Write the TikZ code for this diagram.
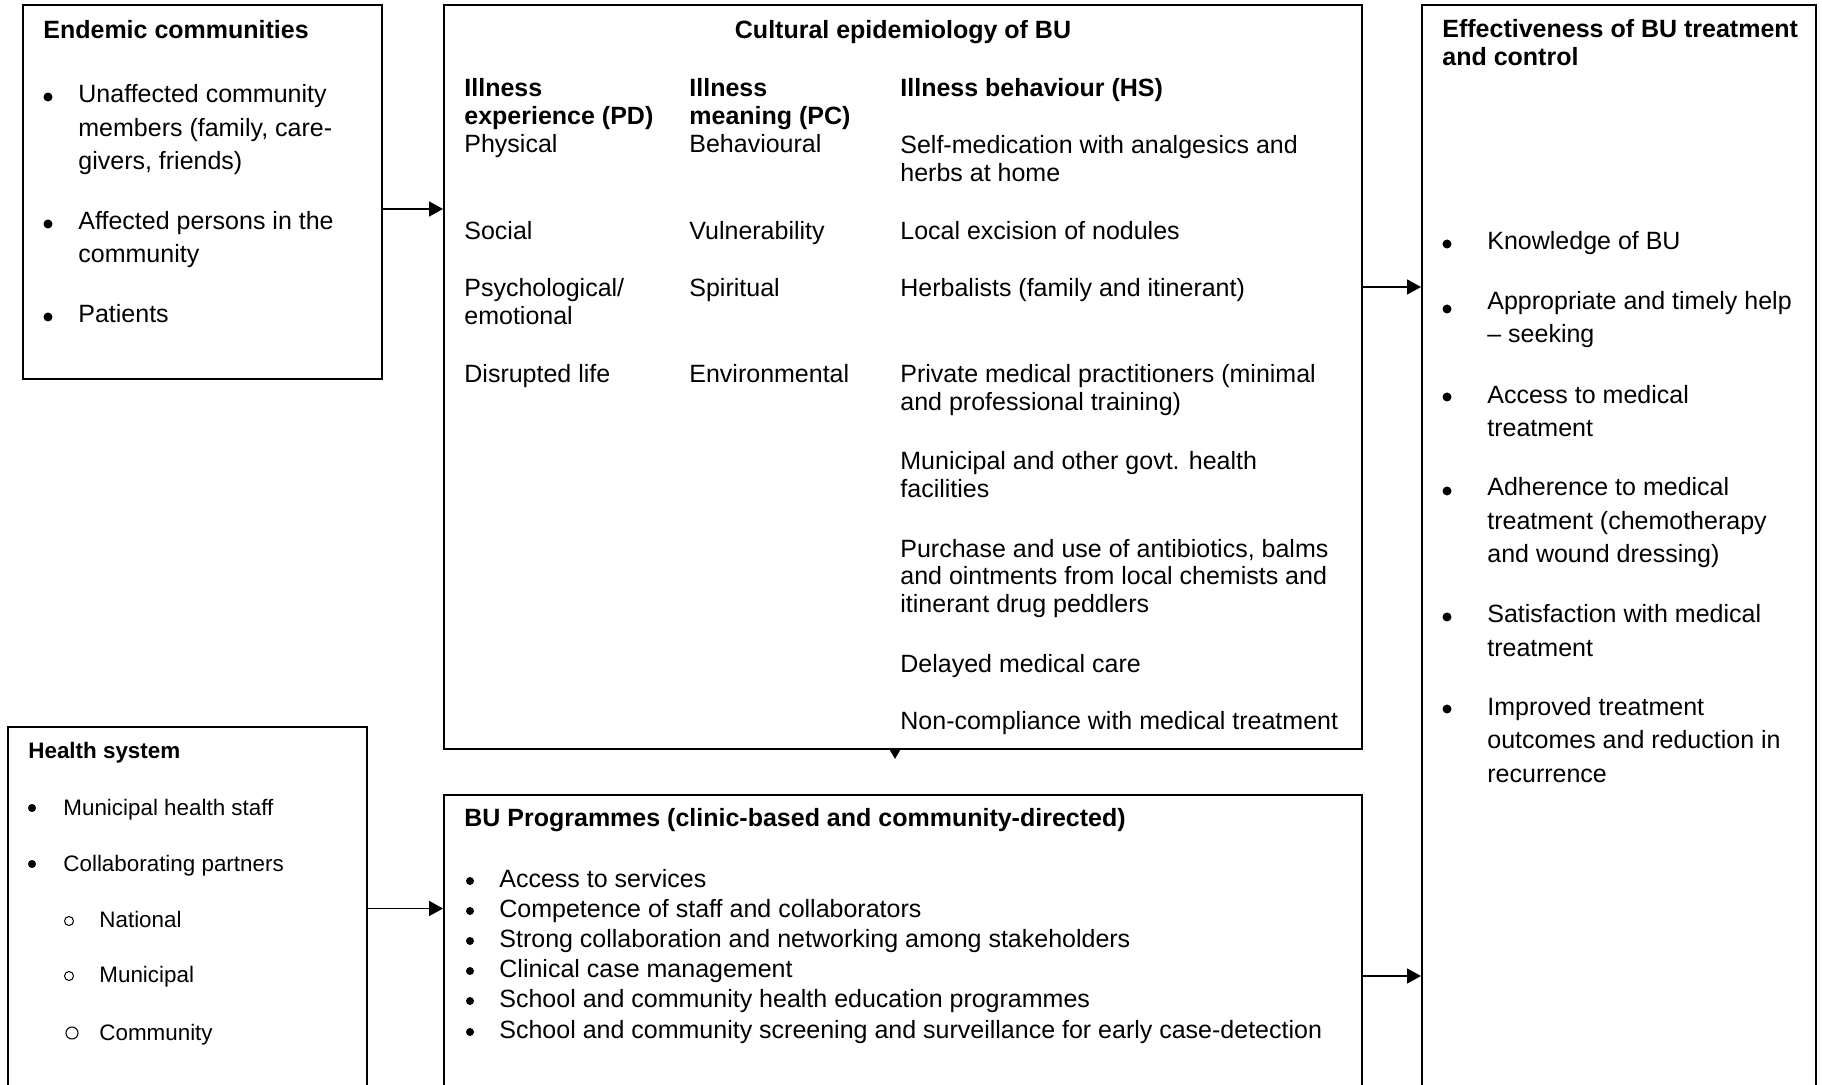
\documentclass[tikz,border=0pt]{standalone}
\usepackage{fontspec}
\setmainfont{Liberation Sans}
\usetikzlibrary{positioning}
\usetikzlibrary{fit}
\usetikzlibrary{arrows.meta}

\begin{document}
\begin{tikzpicture}[x=0.5pt,y=-0.5pt]
	\tikzstyle{box}=[draw, line width=1pt, inner sep=0pt]
	\tikzstyle{txt}=[inner sep=0pt, anchor=base west, align=left, font=\fontsize{12.5pt}{16.75pt}\selectfont]
	\tikzstyle{tight}=[txt, font=\fontsize{12.5pt}{14pt}\selectfont]
	\tikzstyle{head}=[txt, font=\fontsize{12.5pt}{14pt}\selectfont\bfseries]
	\tikzstyle{small}=[txt, font=\fontsize{11.2pt}{14pt}\selectfont]
	\tikzstyle{dot}=[circle, fill, inner sep=0pt, minimum size=4.5pt]
	\tikzstyle{ring}=[circle, draw, line width=0.5pt, inner sep=0pt, minimum size=4.5pt]
	\tikzstyle{arr}=[line width=0.9pt, -{Triangle[length=7pt,width=7.5pt]}]

	\useasboundingbox (0,0) rectangle (1822,1085);

	% the five boxes
	\node[box, fit={(23,5) (382,379)}] (endemic) {};
	\node[box, fit={(444,5) (1362,749)}] (cult) {};
	\node[box, fit={(1422,5) (1816,1100)}] (eff) {};
	\node[box, fit={(8,727) (367,1090)}] (health) {};
	\node[box, fit={(444,795) (1362,1157)}] (prog) {};

	% endemic communities (multi-line texts sit on their last line)
	\node[head] (endemic-title) at (43,39) {Endemic communities};
	\foreach \y in {103,230,323} \node[dot] (endemic-dot-\y) at (48,\y-6) {};
	\node[txt] (endemic-a) at (78,170) {Unaffected community\\members (family, care-\\givers, friends)};
	\node[txt] (endemic-b) at (78,263) {Affected persons in the\\community};
	\node[txt] (endemic-c) at (78,323) {Patients};

	% cultural epidemiology
	\node[head, anchor=base] (cult-title) at (903,39) {Cultural epidemiology of BU};
	\node[head] (pd-head) at (464,125) {Illness\\experience (PD)};
	\node[head] (pc-head) at (689,125) {Illness\\meaning (PC)};
	\node[head] (hs-head) at (900,97) {Illness behaviour (HS)};

	\node[tight] (pd-a) at (464,153) {Physical};
	\node[tight] (pd-b) at (464,240) {Social};
	\node[tight] (pd-c) at (464,325) {Psychological/\\emotional};
	\node[tight] (pd-d) at (464,383) {Disrupted life};

	\node[tight] (pc-a) at (689,153) {Behavioural};
	\node[tight] (pc-b) at (689,240) {Vulnerability};
	\node[tight] (pc-c) at (689,297) {Spiritual};
	\node[tight] (pc-d) at (689,383) {Environmental};

	\node[tight] (hs-a) at (900,182) {Self-medication with analgesics and\\herbs at home};
	\node[tight] (hs-b) at (900,240) {Local excision of nodules};
	\node[tight] (hs-c) at (900,297) {Herbalists (family and itinerant)};
	\node[tight] (hs-d) at (900,411) {Private medical practitioners (minimal\\and professional training)};
	\node[tight] (hs-e) at (900,498) {Municipal and other govt. health\\facilities};
	\node[tight] (hs-f) at (900,613) {Purchase and use of antibiotics, balms\\and ointments from local chemists and\\itinerant drug peddlers};
	\node[tight] (hs-g) at (900,672) {Delayed medical care};
	\node[tight] (hs-h) at (900,729) {Non-compliance with medical treatment};

	% effectiveness
	\node[head] (eff-title) at (1442,66) {Effectiveness of BU treatment\\and control};
	\foreach \y in {250,315,403,497,623,715} \node[dot] (eff-dot-\y) at (1447,\y-6) {};
	\node[txt] (eff-a) at (1487,250) {Knowledge of BU};
	\node[txt] (eff-b) at (1487,343) {Appropriate and timely help\\– seeking};
	\node[txt] (eff-c) at (1487,437) {Access to medical\\treatment};
	\node[txt] (eff-d) at (1487,563) {Adherence to medical\\treatment (chemotherapy\\and wound dressing)};
	\node[txt] (eff-e) at (1487,656) {Satisfaction with medical\\treatment};
	\node[txt] (eff-f) at (1487,782) {Improved treatment\\outcomes and reduction in\\recurrence};

	% health system
	\node[small, font=\fontsize{11.2pt}{14pt}\selectfont\bfseries] (health-title) at (28,758) {Health system};
	\foreach \y in {815,871} \node[dot, minimum size=4pt] (health-dot-\y) at (32,\y-7) {};
	\node[small] (health-a) at (63,815) {Municipal health staff};
	\node[small] (health-b) at (63,871) {Collaborating partners};
	\node[ring] (ring-a) at (69,921) {};
	\node[ring] (ring-b) at (69,976) {};
	\node[ring, minimum size=6pt] (ring-c) at (72,1033) {};
	\node[small] (health-c) at (99,927) {National};
	\node[small] (health-d) at (99,982) {Municipal};
	\node[small] (health-e) at (99,1040) {Community};

	% programmes
	\node[head] (prog-title) at (464,826) {BU Programmes (clinic-based and community-directed)};
	\foreach \y in {887,917,947,977,1007,1038} \node[dot, minimum size=4pt] (prog-dot-\y) at (470,\y-6) {};
	\node[txt] (prog-a) at (499,887) {Access to services};
	\node[txt] (prog-b) at (499,917) {Competence of staff and collaborators};
	\node[txt] (prog-c) at (499,947) {Strong collaboration and networking among stakeholders};
	\node[txt] (prog-d) at (499,977) {Clinical case management};
	\node[txt] (prog-e) at (499,1007) {School and community health education programmes};
	\node[txt] (prog-f) at (499,1038) {School and community screening and surveillance for early case-detection};

	% arrows
	\draw[arr] ([yshift=-8.5pt]endemic.east) -- ([yshift=-8.5pt]endemic.east -| cult.west);
	\draw[arr] ([yshift=45pt]cult.east) -- ([yshift=45pt]cult.east -| eff.west);
	\draw[arr] (health.east) -- (health.east -| prog.west);
	\draw[arr] (prog.east) -- (prog.east -| eff.west);
	\coordinate (cult-tip) at (895,759);
	\draw[line width=0.9pt, -{Triangle[length=4.5pt,width=5pt]}] (cult-tip |- cult.south) -- (cult-tip);
\end{tikzpicture}
\end{document}
